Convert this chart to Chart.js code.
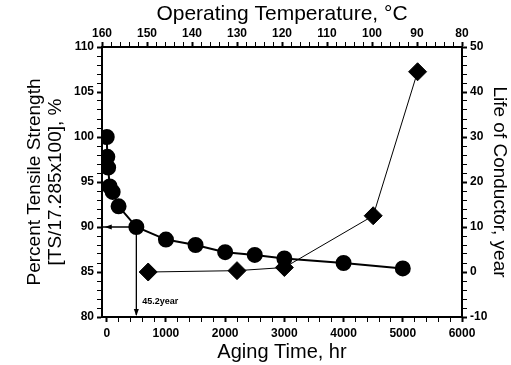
<!DOCTYPE html>
<html>
<head>
<meta charset="utf-8">
<script src="https://cdn.jsdelivr.net/npm/chart.js@4/dist/chart.umd.min.js"></script>
<style>
  body { margin: 0; background: #fff; }
  canvas { display: block; }
</style>
</head>
<body>
<canvas id="chart" width="511" height="365"></canvas>
<script>
// tensile strength (left axis) vs aging time
const agingHours = [0, 10, 24, 50, 100, 200, 500, 1000, 1500, 2000, 2500, 3000, 4000, 5000];
const tensilePct = [100, 97.8, 96.6, 94.5, 93.9, 92.3, 90, 88.6, 88.0, 87.2, 86.9, 86.5, 86.0, 85.4];

// life of conductor (right axis)
const lifeHours = [700, 2200, 3000, 4500, 5250];
const lifeYears = [0, 0.3, 1, 12.5, 44.5];

// 90% criterion arrow
const criterionHours = 500;
const criterionPct = 90;
const criterionLabel = '45.2year';

// tick lists
const timeTicks = [];
for (let v = 0; v <= 6000; v += 200) timeTicks.push(v);
const tempTicks = [];
for (let v = 80; v <= 160; v += 2) tempTicks.push(v);
const pctTicks = [];
for (let v = 80; v <= 110; v += 1) pctTicks.push(v);
const lifeTicks = [];
for (let v = -10; v <= 50; v += 2) lifeTicks.push(v);

const fam = 'Liberation Sans, Arial, sans-serif';
const tickFont = { family: fam, size: 12, weight: 'bold' };

function axisBase(list, major, size, pad) {
  return {
    afterBuildTicks: s => { s.ticks = list.map(v => ({ value: v })); },
    afterFit: s => {
      if (s.isHorizontal()) s.height = size; else s.width = size;
    },
    grid: {
      drawOnChartArea: false,
      drawTicks: true,
      tickLength: 5,
      tickColor: '#000',
      tickWidth: c => (c.tick && c.tick.value % major === 0) ? 2 : 1
    },
    border: { display: true, color: '#000', width: 2 },
    ticks: {
      autoSkip: false,
      maxRotation: 0,
      padding: pad,
      color: '#000',
      font: tickFont,
      callback: v => (v % major === 0 ? String(v) : '')
    }
  };
}

const arrowPlugin = {
  id: 'arrows',
  beforeDatasetsDraw(chart) {
    const { ctx, scales, chartArea } = chart;
    const px = scales.x.getPixelForValue(criterionHours);
    const py = scales.y.getPixelForValue(criterionPct);
    const x0 = scales.x.getPixelForValue(0);
    const yb = scales.y.getPixelForValue(80);
    ctx.save();
    ctx.strokeStyle = '#000';
    ctx.fillStyle = '#000';
    ctx.lineWidth = 1.3;
    ctx.beginPath();
    ctx.moveTo(chartArea.left, py);
    ctx.lineTo(px, py);
    ctx.lineTo(px, yb - 2);
    ctx.stroke();
    // left arrowhead
    ctx.beginPath();
    ctx.moveTo(x0 - 2, py);
    ctx.lineTo(x0 + 5, py - 2.5);
    ctx.lineTo(x0 + 5, py + 2.5);
    ctx.closePath();
    ctx.fill();
    // down arrowhead
    ctx.beginPath();
    ctx.moveTo(px, yb - 1);
    ctx.lineTo(px - 2.5, yb - 8);
    ctx.lineTo(px + 2.5, yb - 8);
    ctx.closePath();
    ctx.fill();
    ctx.font = 'bold 9px ' + fam;
    ctx.textBaseline = 'middle';
    ctx.fillText(criterionLabel, px + 6, scales.y.getPixelForValue(81.7));
    ctx.restore();
  }
};

new Chart(document.getElementById('chart'), {
  type: 'scatter',
  data: {
    datasets: [
      {
        label: 'Tensile strength',
        data: agingHours.map((h, i) => ({ x: h, y: tensilePct[i] })),
        xAxisID: 'x',
        yAxisID: 'y',
        showLine: true,
        borderColor: '#000',
        backgroundColor: '#000',
        borderWidth: 2,
        pointStyle: 'circle',
        pointRadius: 7,
        pointHoverRadius: 7
      },
      {
        label: 'Life',
        data: lifeHours.map((h, i) => ({ x: h, y: lifeYears[i] })),
        xAxisID: 'x',
        yAxisID: 'y2',
        showLine: true,
        borderColor: '#000',
        backgroundColor: '#000',
        borderWidth: 1,
        pointStyle: 'rectRot',
        pointRadius: 9,
        pointHoverRadius: 9
      }
    ]
  },
  options: {
    responsive: false,
    animation: false,
    layout: { padding: 0 },
    plugins: { legend: { display: false }, tooltip: { enabled: false } },
    scales: {
      x: Object.assign(axisBase(timeTicks, 1000, 48, 4), {
        type: 'linear', position: 'bottom', min: -80, max: 6000,
        title: { display: true, text: 'Aging Time, hr', color: '#000', font: { family: fam, size: 20 }, padding: { top: 0, bottom: 1 } }
      }),
      x2: Object.assign(axisBase(tempTicks, 10, 47, 1), {
        type: 'linear', position: 'top', min: 80, max: 160, reverse: true,
        title: { display: true, text: 'Operating Temperature, °C', color: '#000', font: { family: fam, size: 21 }, padding: { top: 2, bottom: 0 } }
      }),
      y: Object.assign(axisBase(pctTicks, 5, 102, 3), {
        type: 'linear', position: 'left', min: 80, max: 110,
        title: { display: true, text: ['Percent Tensile Strength', '[TS/17.285x100], %'], color: '#000', font: { family: fam, size: 19, lineHeight: 1.1 }, padding: { top: 24, bottom: 0 } }
      }),
      y2: Object.assign(axisBase(lifeTicks, 10, 49, 3), {
        type: 'linear', position: 'right', min: -10, max: 50,
        title: { display: true, text: 'Life of Conductor, year', color: '#000', font: { family: fam, size: 19 }, padding: { top: 0, bottom: 1 } }
      })
    }
  },
  plugins: [arrowPlugin]
});
</script>
</body>
</html>
